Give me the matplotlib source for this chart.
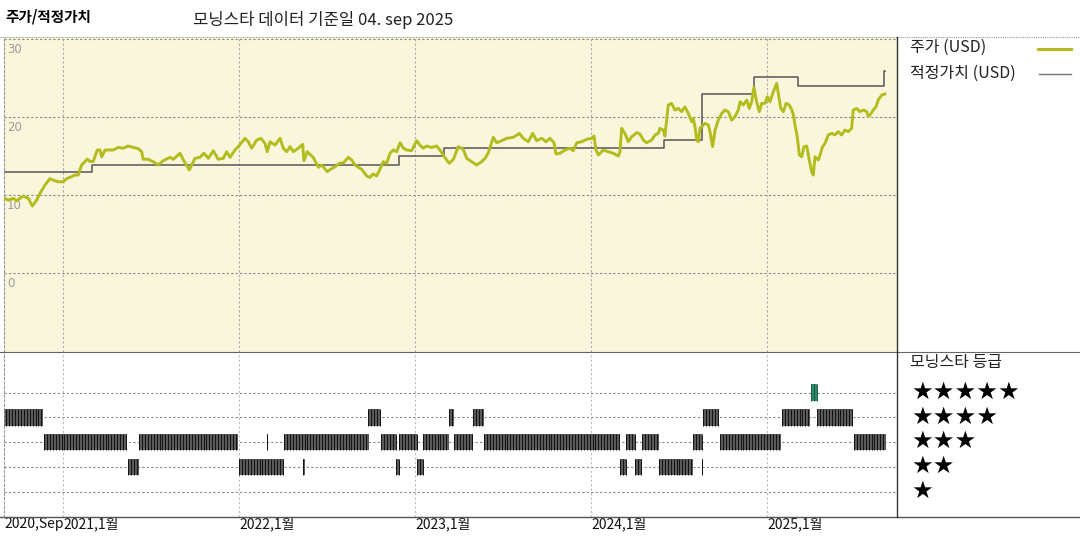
import numpy as np
import matplotlib
matplotlib.use("Agg")
from matplotlib import pyplot as plt
from matplotlib.lines import Line2D

plt.rcParams['font.family'] = ['Noto Sans CJK KR', 'DejaVu Sans']

# price (USD), x in decimal years
price_years = [
    2020.661, 2020.689, 2020.718, 2020.737, 2020.774, 2020.803, 2020.826, 2020.851, 2020.869, 2020.898,
    2020.926, 2020.945, 2020.973, 2021.002, 2021.021, 2021.049, 2021.068, 2021.087, 2021.106, 2021.125,
    2021.138, 2021.153, 2021.172, 2021.195, 2021.210, 2021.220, 2021.239, 2021.286, 2021.314, 2021.343,
    2021.371, 2021.399, 2021.428, 2021.447, 2021.456, 2021.485, 2021.513, 2021.541, 2021.570, 2021.608,
    2021.627, 2021.665, 2021.684, 2021.718, 2021.750, 2021.778, 2021.801, 2021.826, 2021.854, 2021.882,
    2021.911, 2021.930, 2021.949, 2021.977, 2021.996, 2022.034, 2022.053, 2022.072, 2022.101, 2022.125,
    2022.148, 2022.161, 2022.176, 2022.205, 2022.233, 2022.252, 2022.271, 2022.290, 2022.309, 2022.337,
    2022.362, 2022.369, 2022.388, 2022.407, 2022.422, 2022.451, 2022.470, 2022.502, 2022.527, 2022.545,
    2022.574, 2022.593, 2022.621, 2022.640, 2022.659, 2022.678, 2022.697, 2022.726, 2022.744, 2022.763,
    2022.782, 2022.801, 2022.820, 2022.839, 2022.858, 2022.877, 2022.896, 2022.915, 2022.934, 2022.953,
    2022.981, 2023.010, 2023.028, 2023.047, 2023.066, 2023.095, 2023.123, 2023.142, 2023.180, 2023.195,
    2023.218, 2023.246, 2023.274, 2023.294, 2023.322, 2023.351, 2023.379, 2023.398, 2023.417, 2023.445,
    2023.464, 2023.493, 2023.521, 2023.559, 2023.593, 2023.615, 2023.644, 2023.669, 2023.691, 2023.720,
    2023.744, 2023.767, 2023.790, 2023.801, 2023.824, 2023.852, 2023.881, 2023.899, 2023.919, 2023.947,
    2023.976, 2024.004, 2024.017, 2024.028, 2024.042, 2024.070, 2024.098, 2024.127, 2024.155, 2024.165,
    2024.174, 2024.193, 2024.212, 2024.231, 2024.260, 2024.278, 2024.297, 2024.316, 2024.345, 2024.364,
    2024.382, 2024.392, 2024.411, 2024.420, 2024.439, 2024.458, 2024.477, 2024.496, 2024.515, 2024.534,
    2024.553, 2024.572, 2024.581, 2024.591, 2024.601, 2024.610, 2024.619, 2024.629, 2024.648, 2024.667,
    2024.676, 2024.691, 2024.705, 2024.723, 2024.743, 2024.761, 2024.780, 2024.799, 2024.818, 2024.837,
    2024.847, 2024.865, 2024.885, 2024.899, 2024.913, 2024.926, 2024.941, 2024.956, 2024.970, 2024.989,
    2025.002, 2025.017, 2025.036, 2025.055, 2025.064, 2025.078, 2025.093, 2025.108, 2025.127, 2025.141,
    2025.150, 2025.159, 2025.172, 2025.184, 2025.197, 2025.210, 2025.226, 2025.240, 2025.254, 2025.263,
    2025.273, 2025.292, 2025.301, 2025.316, 2025.330, 2025.348, 2025.368, 2025.386, 2025.405, 2025.424,
    2025.443, 2025.462, 2025.481, 2025.490, 2025.510, 2025.528, 2025.547, 2025.567, 2025.576, 2025.585,
    2025.604, 2025.619, 2025.632, 2025.652, 2025.670,
]
price_values = [
    9.65, 9.36, 9.57, 9.27, 9.87, 9.57, 8.59, 9.36, 10.2, 11.28,
    12.1, 11.9, 11.7, 11.7, 12.1, 12.35, 12.56, 12.56, 13.85, 14.27,
    14.6, 14.3, 14.3, 15.77, 15.77, 14.9, 15.77, 15.77, 16.1, 16.0,
    16.28, 16.1, 15.94, 15.55, 14.58, 14.58, 14.27, 13.85, 14.4, 14.83,
    14.58, 15.35, 14.49, 13.2, 14.7, 14.83, 15.35, 14.7, 15.68, 14.58,
    14.7, 15.55, 14.83, 15.77, 16.2, 17.27, 16.83, 16.0, 17.05, 17.27,
    16.6, 15.55, 16.83, 16.4, 17.27, 16.0, 15.55, 16.2, 15.55, 16.0,
    16.5, 14.4, 15.55, 15.13, 14.83, 13.55, 13.85, 12.99, 13.4, 13.6,
    14.1, 14.1, 14.83, 14.5, 13.85, 13.55, 13.3, 12.44, 12.27, 12.7,
    12.44, 13.3, 14.27, 14.06, 15.35, 15.77, 15.55, 16.7, 16.0, 15.77,
    15.68, 16.96, 16.4, 16.0, 16.28, 16.1, 16.28, 15.77, 14.5, 14.06,
    14.58, 16.2, 15.86, 14.7, 14.27, 13.85, 14.27, 14.7, 15.42, 17.4,
    16.7, 16.96, 17.27, 17.4, 17.9, 17.27, 16.83, 17.9, 16.96, 17.27,
    16.83, 17.27, 16.7, 15.26, 15.35, 15.77, 16.0, 15.68, 16.7, 16.83,
    17.14, 17.27, 17.56, 15.77, 15.13, 15.77, 15.55, 15.35, 15.0, 15.55,
    18.55, 17.9, 16.83, 17.47, 17.99, 17.82, 17.05, 16.7, 17.05, 17.7,
    17.9, 18.55, 18.33, 17.56, 21.54, 21.75, 20.9, 21.1, 20.7, 21.3,
    20.47, 19.4, 19.83, 18.76, 17.05, 16.83, 18.55, 18.76, 19.19, 18.97,
    18.12, 16.2, 18.33, 19.6, 20.47, 20.9, 20.68, 19.6, 20.04, 20.9,
    21.96, 21.54, 22.18, 21.1, 21.96, 23.8, 21.96, 20.68, 21.75, 21.75,
    22.6, 21.96, 23.24, 24.32, 23.04, 21.1, 20.68, 21.75, 21.54, 20.9,
    20.26, 18.97, 17.47, 15.13, 14.9, 16.2, 16.28, 14.49, 12.99, 12.56,
    14.9, 14.49, 15.13, 16.2, 16.63, 17.7, 17.9, 17.7, 18.12, 17.7,
    18.33, 18.12, 18.55, 20.9, 21.1, 20.68, 20.9, 20.68, 20.04, 20.26,
    20.9, 21.3, 22.18, 22.82, 22.95,
]

# fair value (USD), step changes
fv_years = [2020.661, 2021.165, 2022.909, 2023.165, 2024.415, 2024.631, 2024.926, 2025.175, 2025.665, 2025.670]
fv_values = [13.0, 13.9, 15.0, 16.0, 17.0, 23.0, 25.1, 24.0, 25.9, 25.9]

# morningstar rating periods
rating_start = [2020.661, 2022.733, 2023.193, 2023.330, 2024.636, 2025.085, 2025.284,
                2025.250,
                2020.892, 2021.432, 2022.159, 2022.256, 2022.807, 2022.909, 2023.045, 2023.222,
                2023.392, 2024.199, 2024.290, 2024.580, 2024.733, 2025.494,
                2021.369, 2022.000, 2022.364, 2022.892, 2023.011, 2024.165, 2024.250, 2024.386,
                2024.631]
rating_end = [2020.888, 2022.801, 2023.222, 2023.392, 2024.727, 2025.244, 2025.489,
              2025.284,
              2021.364, 2021.994, 2022.165, 2022.739, 2022.892, 2023.011, 2023.193, 2023.330,
              2024.165, 2024.250, 2024.386, 2024.631, 2025.080, 2025.676,
              2021.432, 2022.256, 2022.375, 2022.909, 2023.045, 2024.199, 2024.290, 2024.580,
              2024.636]
rating_value = [4, 4, 4, 4, 4, 4, 4,
                5,
                3, 3, 3, 3, 3, 3, 3, 3, 3, 3, 3, 3, 3, 3,
                2, 2, 2, 2, 2, 2, 2, 2, 2]

year_ticks = [2020.665, 2021, 2022, 2023, 2024, 2025]
year_labels = ["2020,Sep", "2021,1월", "2022,1월", "2023,1월", "2024,1월", "2025,1월"]
price_ticks = [30, 20, 10, 0]

W, H = 1080, 540
price_color = '#B3BC1D'
fv_color = '#555555'

fig = plt.figure(figsize=(10.8, 5.4), dpi=100)

x_left, x_right = 4, 897
xlim = (2020.665, 2021 + (897 - 63) / 176)

# price panel
ax = fig.add_axes([x_left / W, 1 - 352 / H, (x_right - x_left) / W, (352 - 37) / H])
ax.set_facecolor('#F9F6DC')
ax.set_xlim(xlim)
ax.set_ylim(-10.13, 30.26)
for v in price_ticks:
    ax.axhline(v, color='#888888', lw=0.8, linestyle=(0, (2, 2)), zorder=1)
    ax.text(2020.682, v - 0.5, str(v), color='#9a9a9a', fontsize=8.5, va='top', ha='left',
            family='DejaVu Sans')
for yr in year_ticks[1:]:
    ax.axvline(yr, color='#aaaaaa', lw=0.8, linestyle=(0, (2, 2)), zorder=1)
ax.plot(fv_years, fv_values, drawstyle='steps-post', color=fv_color, lw=1.1, zorder=2)
ax.plot(price_years, price_values, color=price_color, lw=2.1, zorder=3)
ax.set_xticks([])
ax.set_yticks([])
for s in ['top', 'right', 'bottom']:
    ax.spines[s].set_visible(False)
ax.spines['left'].set_color('#999999')
ax.spines['left'].set_linestyle((0, (2, 2)))
ax.spines['left'].set_linewidth(0.8)

# rating panel
ax2 = fig.add_axes([x_left / W, 1 - 517 / H, (x_right - x_left) / W, (517 - 352) / H])
ax2.set_xlim(xlim)
ax2.set_ylim(-0.01, 6.63)
for r in range(1, 6):
    ax2.axhline(r, color='#888888', lw=0.8, linestyle=(0, (2, 2)), zorder=1)
for yr in year_ticks[1:]:
    ax2.axvline(yr, color='#bbbbbb', lw=0.8, linestyle=(0, (2, 2)), zorder=1)
for s, e, r in zip(rating_start, rating_end, rating_value):
    fc = '#2E8B6A' if r == 5 else '#5a5a5a'
    sc = '#1c5a44' if r == 5 else '#111111'
    ax2.broken_barh([(s, max(e - s, 0.004))], (r - 0.33, 0.67), facecolors=fc, zorder=2)
    stripes = np.arange(s, e, 1 / 60)
    ax2.vlines(stripes, r - 0.33, r + 0.34, color=sc, lw=0.7, zorder=3)
ax2.set_xticks([])
ax2.set_yticks([])
for s in ['top', 'right', 'bottom']:
    ax2.spines[s].set_visible(False)
ax2.spines['left'].set_color('#999999')
ax2.spines['left'].set_linestyle((0, (2, 2)))
ax2.spines['left'].set_linewidth(0.8)

for yr, lab in zip(year_ticks, year_labels):
    ax2.text(yr + 0.003, -0.04, lab, transform=ax2.get_xaxis_transform(), fontsize=10,
             va='center', ha='left', color='#111111')

# frame lines
fig.add_artist(Line2D([0, 1], [1 - 37 / H] * 2, color='#999999', lw=0.8, linestyle=(0, (1, 1))))
fig.add_artist(Line2D([0, 1], [1 - 352 / H] * 2, color='#666666', lw=0.8))
fig.add_artist(Line2D([0, 1], [1 - 517 / H] * 2, color='#555555', lw=1.0))
fig.add_artist(Line2D([x_right / W] * 2, [1 - 37 / H, 1 - 517 / H], color='#333333', lw=1.0))

# titles
fig.text(5 / W, 1 - 17 / H, "주가/적정가치", fontsize=10.5, fontweight='bold', va='center', ha='left')
fig.text(193 / W, 1 - 20 / H, "모닝스타 데이터 기준일 04. sep 2025", fontsize=12, va='center',
         ha='left', color='#222222')

# legend
fig.text(910 / W, 1 - 47 / H, "주가 (USD)", fontsize=11.5, va='center', ha='left', color='#222222')
fig.text(910 / W, 1 - 73 / H, "적정가치 (USD)", fontsize=11.5, va='center', ha='left', color='#222222')
fig.add_artist(Line2D([1038 / W, 1071 / W], [1 - 49 / H] * 2, color=price_color, lw=2.2))
fig.add_artist(Line2D([1039 / W, 1071 / W], [1 - 74 / H] * 2, color='#777777', lw=1.0))

fig.text(910 / W, 1 - 363 / H, "모닝스타 등급", fontsize=11.5, va='center', ha='left', color='#222222')
star_rows = [392, 417, 441, 466, 491]
for n, yp in zip([5, 4, 3, 2, 1], star_rows):
    fig.text(911 / W, 1 - yp / H, "★" * n, fontsize=17.5, va='center', ha='left',
             family='DejaVu Sans', color='black')

fig.savefig("out.png", dpi=100)
